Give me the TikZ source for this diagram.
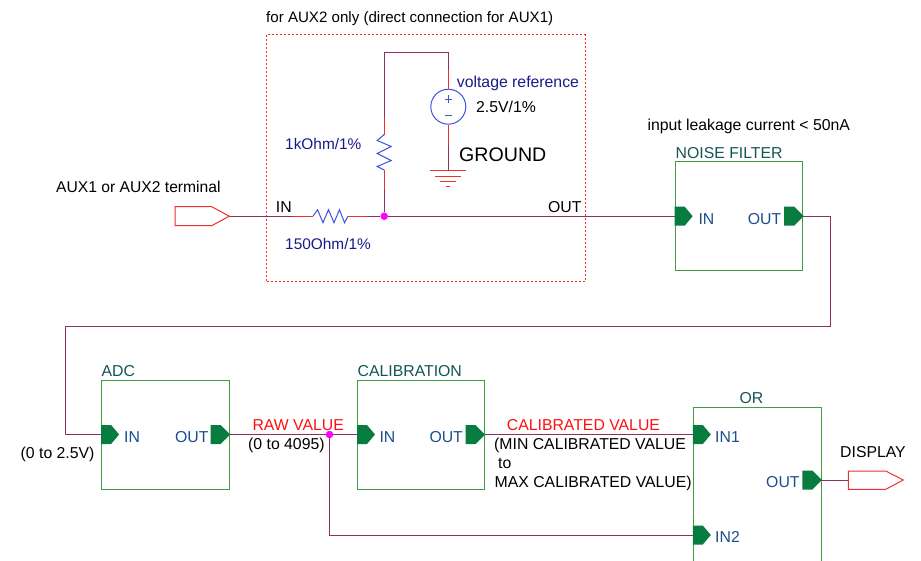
\documentclass[tikz,border=0pt]{standalone}
\usepackage{fontspec}
\setmainfont{Liberation Sans}
\definecolor{wirec}{HTML}{8E2F63}
\definecolor{leadc}{HTML}{F03030}
\definecolor{compc}{HTML}{4050E0}
\definecolor{pinc}{HTML}{087B3F}
\definecolor{boxc}{HTML}{3F9F3F}
\definecolor{titlec}{HTML}{125656}
\definecolor{pinl}{HTML}{1A4E8C}
\definecolor{valc}{HTML}{1A1A8A}
\definecolor{juncc}{HTML}{FF00FF}
\definecolor{sigc}{HTML}{FF1010}
\tikzset{
  x=1pt,y=-1pt,
  wire/.style={draw=wirec,line width=1pt},
  lead/.style={draw=leadc,line width=1pt},
  comp/.style={draw=compc,line width=1pt,line join=miter},
  block/.style={draw=boxc,line width=1pt,fill=none,rectangle,inner sep=0pt},
  port/.style={draw=leadc,line width=1pt,fill=white,line join=miter},
  junc/.style={circle,fill=juncc,inner sep=0pt,minimum size=7.5pt},
  txt/.style={anchor=base west,inner sep=0pt,font=\fontsize{15.8}{17}\selectfont,text=black},
  ttl/.style={txt,text=titlec},
  pinlabel/.style={txt,text=pinl},
  val/.style={txt,text=valc},
  sig/.style={txt,text=sigc},
  inpin/.pic={\fill[pinc] (-0.5,-9.5) -- (9.5,-9.5) -- (17.5,0) -- (9.5,9.5) -- (-0.5,9.5) -- cycle;},
  outpin/.pic={\fill[pinc] (-19,-9.5) -- (-9,-9.5) -- (0.5,0) -- (-9,9.5) -- (-19,9.5) -- cycle;},
}
\begin{document}
\begin{tikzpicture}
\useasboundingbox (0,0) rectangle (921,560);
\fill[white] (0,0) rectangle (921,560);
\clip (0,0) rectangle (921,560);
% boxes
\node[block,minimum width=127pt,minimum height=109pt] (noise) at (739.2,216.2) {};
\node[block,minimum width=128pt,minimum height=109pt] (adc) at (165.6,435) {};
\node[block,minimum width=127pt,minimum height=109pt] (cal) at (421,435) {};
\node[block,minimum width=128pt,minimum height=180pt] (orb) at (757.3,497.5) {};
\node[draw=red!85,line width=.8pt,inner sep=0pt,minimum width=318.4pt,minimum height=246.6pt,dash pattern=on 2pt off 2pt] (ref) at (425.8,157.8) {};
% connection points
\coordinate (noiseIn) at (noise.west);
\coordinate (noiseOut) at (noise.east);
\coordinate (adcIn) at (101.6,434.5);
\coordinate (adcOut) at (229.6,434.5);
\coordinate (calIn) at (357.5,434.5);
\coordinate (calOut) at (484.5,434.5);
\coordinate (orIn1) at (693.3,434.5);
\coordinate (orIn2) at (693.3,535);
\coordinate (orOut) at (821.3,480);
\coordinate (inTip) at (229.3,216.2);
\coordinate (inLead) at (293,216.2);
\coordinate (r1a) at (313,216.2);
\coordinate (r1b) at (348,216.2);
\coordinate (r1c) at (367,216.2);
\coordinate (r2a) at (384.2,170);
\coordinate (r2b) at (384.2,135);
\coordinate (r2c) at (384.2,116.7);
\coordinate (r2d) at (384.2,190);
\coordinate (top1) at (384.2,52.7);
\coordinate (top2) at (448.3,52.7);
\coordinate (srcT) at (448.3,70);
\coordinate (srcB) at (448.3,145);
\coordinate (gnd) at (448.3,170.7);
\coordinate (dispL) at (848.3,480);
% ports
\node[junc] (j1) at (384.2,216.2) {};
\node[junc] (j2) at (329.5,434.5) {};
\node[circle,draw=compc,line width=1pt,fill=white,minimum size=35pt,inner sep=0pt] (src) at (448.3,106.7) {};
% wiring
\draw[wire] (inTip) -- (inLead);
\draw[lead] (inLead) -- (r1a);
\draw[comp] (r1a) -- ++(4.5,-6.5) -- ++(5.5,13) -- ++(5.5,-13) -- ++(5.5,13) -- ++(5.5,-13) -- ++(5,13) -- (r1b);
\draw[lead] (r1b) -- (r1c);
\draw[wire] (r1c) -- (j1);
\draw[wire] (j1) -- (noiseIn);
\draw[wire] (j1) -- (r2d);
\draw[lead] (r2d) -- (r2a);
\draw[comp] (r2a) -- ++(-7,-3.5) -- ++(14,-6) -- ++(-14,-7) -- ++(14,-7) -- ++(-14,-6) -- ++(7,-6);
\draw[lead] (r2b) -- (r2c);
\draw[wire] (r2c) -- (top1) -- (top2) -- (srcT);
\draw[lead] (srcT) -- (src.north);
\draw[lead] (src.south) -- (srcB);
\draw[wire] (srcB) -- (gnd);
\draw[leadc,line width=1pt] (429.7,170.7) -- (465.5,170.7);
\draw[leadc,line width=1pt] (435,176) -- (461,176);
\draw[leadc,line width=1pt] (440,181) -- (456,181);
\draw[leadc,line width=1pt] (446,186.5) -- (450,186.5);
\draw[compc,line width=1pt] (444.5,99) -- (452,99) (448.3,95.3) -- (448.3,102.7);
\draw[compc,line width=1pt] (445,115.5) -- (451.5,115.5);
\draw[wire] (noiseOut) -| (830,326) -- (65.7,326) |- (adcIn);
\draw[wire] (adcOut) -- (j2) -- (calIn);
\draw[wire] (j2) |- (orIn2);
\draw[wire] (calOut) -- (orIn1);
\draw[wire] (orOut) -- (dispL);
% terminals
\draw[port] (175,206.7) -- (211.7,206.7) -- (inTip) -- (211.7,225.7) -- (175,225.7) -- cycle;
\draw[port] (dispL) -- (848.3,471) -- (885.7,471) -- (903.3,480) -- (885.7,489.3) -- (848.3,489.3) -- cycle;
% pins
\pic at (noiseIn) {inpin};
\pic at (noiseOut) {outpin};
\pic at (adcIn) {inpin};
\pic at (adcOut) {outpin};
\pic at (calIn) {inpin};
\pic at (calOut) {outpin};
\pic at (orIn1) {inpin};
\pic at (orIn2) {inpin};
\pic at (orOut) {outpin};
% labels
\node[txt,font=\fontsize{15.1}{17}\selectfont] (t1) at (266,22) {for AUX2 only (direct connection for AUX1)};
\node[val] (t2) at (456.7,87.7) {voltage reference};
\node[txt] (t3) at (476,112.7) {2.5V/1\%};
\node[txt,font=\fontsize{19.6}{21}\selectfont] (t4) at (459,161) {GROUND};
\node[val,font=\fontsize{15.4}{17}\selectfont] (t5) at (285,149) {1kOhm/1\%};
\node[val,font=\fontsize{15.4}{17}\selectfont] (t6) at (285,249.3) {150Ohm/1\%};
\node[txt] (t7) at (275.7,212) {IN};
\node[txt] (t8) at (548,212) {OUT};
\node[txt,font=\fontsize{15.65}{17}\selectfont] (t9) at (56,192.5) {AUX1 or AUX2 terminal};
\node[txt] (t10) at (647.3,130) {input leakage current < 50nA};
\node[ttl] (t11) at (675.5,158.7) {NOISE FILTER};
\node[pinlabel] (t12) at (698.3,224) {IN};
\node[pinlabel] (t13) at (747.7,224) {OUT};
\node[ttl] (t14) at (101.5,376.7) {ADC};
\node[pinlabel] (t15) at (124,442) {IN};
\node[pinlabel] (t16) at (175,442) {OUT};
\node[txt] (t17) at (20.5,458.7) {(0 to 2.5V)};
\node[sig] (t18) at (252.3,430) {RAW VALUE};
\node[txt] (t19) at (248,449) {(0 to 4095)};
\node[ttl] (t20) at (357.5,376.7) {CALIBRATION};
\node[pinlabel] (t21) at (379.3,442) {IN};
\node[pinlabel] (t22) at (429.3,442) {OUT};
\node[sig] (t23) at (506.7,430) {CALIBRATED VALUE};
\node[txt] (t24) at (494,449) {(MIN CALIBRATED VALUE};
\node[txt] (t25) at (498,468) {to};
\node[txt] (t26) at (494.5,487.7) {MAX CALIBRATED VALUE)};
\node[ttl] (t27) at (739.3,403.3) {OR};
\node[pinlabel] (t28) at (715,442) {IN1};
\node[pinlabel] (t29) at (715,542.7) {IN2};
\node[pinlabel] (t30) at (766,487.3) {OUT};
\node[txt] (t31) at (840,457.3) {DISPLAY};
\end{tikzpicture}
\end{document}
